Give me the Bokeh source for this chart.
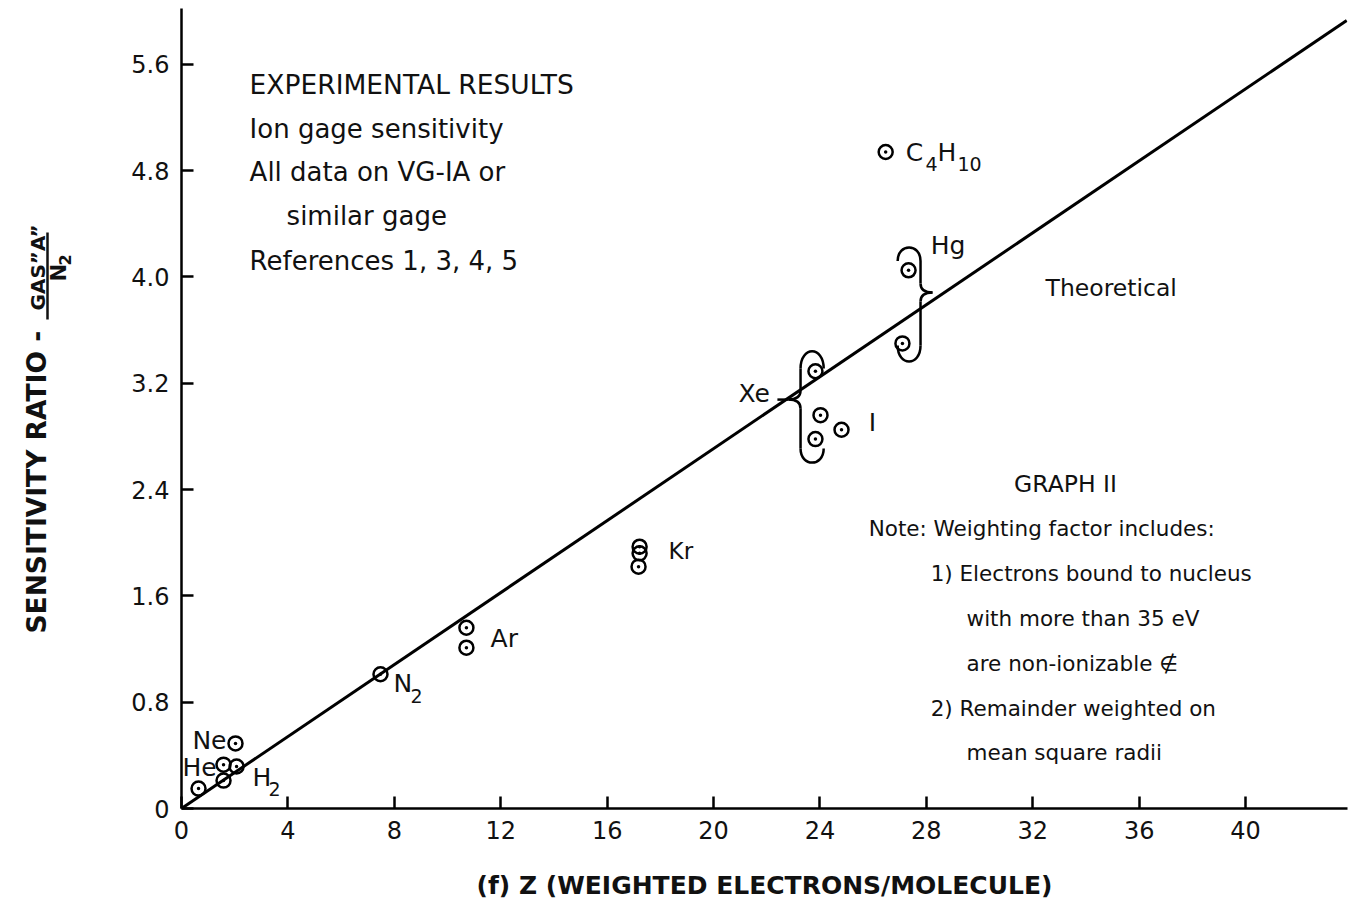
import math
from bokeh.plotting import figure
from bokeh.layouts import row
from bokeh.models import Label, FixedTicker
from bokeh.core.properties import value
from bokeh.embed import file_html
from bokeh.resources import INLINE

# ---------------- data ----------------
gas_names = ["He", "He", "H2", "Ne", "Ne", "N2", "Ar", "Ar", "Kr", "Kr", "Kr",
             "Xe", "Xe", "Xe", "I", "Hg", "Hg", "C4H10"]
gas_z = [0.64, 1.58, 2.07, 1.58, 2.03, 7.48, 10.71, 10.71, 17.22, 17.22, 17.18,
         23.83, 24.02, 23.83, 24.81, 27.33, 27.10, 26.47]
gas_ratio = [0.15, 0.21, 0.316, 0.33, 0.49, 1.01, 1.36, 1.21, 1.97, 1.92, 1.82,
             3.29, 2.96, 2.78, 2.85, 4.05, 3.50, 4.94]

theory_z = [0.0, 43.8]
theory_ratio = [0.0, 5.93]

x_ticks = [0, 4, 8, 12, 16, 20, 24, 28, 32, 36, 40]
x_tick_labels = ["0", "4", "8", "12", "16", "20", "24", "28", "32", "36", "40"]
y_ticks = [0, 0.8, 1.6, 2.4, 3.2, 4.0, 4.8, 5.6]
y_tick_labels = ["0", "0.8", "1.6", "2.4", "3.2", "4.0", "4.8", "5.6"]

FONT = "DejaVu Sans"
INK = "#111111"

# ---------------- y-axis title panel (left strip) ----------------
W_LEFT = 100
H = 904
ylab = figure(width=W_LEFT, height=H, frame_width=W_LEFT, frame_height=H,
              x_range=(0, W_LEFT), y_range=(0, H),
              x_axis_type=None, y_axis_type=None, output_backend="svg",
              toolbar_location=None, min_border=0)
ylab.outline_line_color = None
ylab.grid.grid_line_color = None


def vtext(fig, text, x, y, size):
    # rotated text reading upward; (x, y) is the start of the string
    fig.text(x=[x], y=[y], text=[text], angle=math.pi / 2, text_align="left",
             text_baseline="middle", text_font=value(FONT), text_font_size=size,
             text_font_style="bold", text_color=INK)


vtext(ylab, "SENSITIVITY RATIO -", 36, H - 625, "26.5px")
vtext(ylab, "GAS\u201dA\u201d", 37, H - 302, "20px")
ylab.segment(x0=[47], y0=[H - 224], x1=[47], y1=[H - 311], line_color=INK, line_width=2.5)
vtext(ylab, "N", 58, H - 273, "21px")
vtext(ylab, "2", 64, H - 257, "16px")

# ---------------- main chart ----------------
p = figure(width=1360 - W_LEFT, height=H, x_range=(0, 43.83), y_range=(0, 6.02),
           output_backend="svg", toolbar_location=None,
           min_border_left=181 - W_LEFT, min_border_right=13, min_border_top=8,
           min_border_bottom=96)
p.outline_line_color = None
p.grid.grid_line_color = None

for ax in (p.xaxis[0], p.yaxis[0]):
    ax.axis_line_width = 2.5
    ax.axis_line_color = "black"
    ax.major_tick_line_width = 2.5
    ax.major_tick_line_color = "black"
    ax.major_tick_in = 12
    ax.major_tick_out = 0
    ax.minor_tick_line_color = None
    ax.major_label_text_font = FONT
    ax.major_label_text_font_size = "24px"
    ax.major_label_text_color = INK
    ax.major_label_standoff = 12

p.xaxis.ticker = FixedTicker(ticks=x_ticks)
p.xaxis.major_label_overrides = dict(zip(x_ticks, x_tick_labels))
p.yaxis.ticker = FixedTicker(ticks=y_ticks)
p.yaxis.major_label_overrides = dict(zip(y_ticks, y_tick_labels))

p.xaxis.axis_label = "(f) Z (WEIGHTED ELECTRONS/MOLECULE)"
p.xaxis.axis_label_text_font = FONT
p.xaxis.axis_label_text_font_style = "bold"
p.xaxis.axis_label_text_font_size = "25px"
p.xaxis.axis_label_text_color = INK
p.xaxis.axis_label_standoff = 29

# theoretical line and data points
p.line(theory_z, theory_ratio, line_width=3, color="black")
p.scatter(gas_z, gas_ratio, marker="circle_dot", size=14, line_color="black",
          line_width=2.5, fill_color=None)


# curly braces (annotation strokes)
def brace(spine, hook, tip_x, tip_y, top_y, top_peak, bot_y, bot_peak, c):
    k = 4.0 / 3.0
    ct = top_y + (top_peak - top_y) * k
    cb = bot_y + (bot_peak - bot_y) * k
    p.bezier(x0=[spine, spine], y0=[top_y, bot_y], x1=[hook, hook], y1=[top_y, bot_y],
             cx0=[spine, spine], cy0=[ct, cb], cx1=[hook, hook], cy1=[ct, cb],
             line_color="black", line_width=2.5)
    p.segment(x0=[spine, spine], y0=[top_y, tip_y - c], x1=[spine, spine], y1=[tip_y + c, bot_y],
              line_color="black", line_width=2.5)
    p.quadratic(x0=[spine, spine], y0=[tip_y + c, tip_y - c], x1=[tip_x, tip_x], y1=[tip_y, tip_y],
                cx=[spine, spine], cy=[tip_y, tip_y], line_color="black", line_width=2.5)


brace(23.27, 24.14, 22.82, 3.077, 3.311, 3.44, 2.709, 2.603, 0.068)
p.segment(x0=[22.40], y0=[3.077], x1=[22.82], y1=[3.077], line_color="black", line_width=2.5)
brace(27.78, 26.92, 28.23, 3.883, 4.120, 4.221, 3.484, 3.364, 0.068)


def lab(text, x, y, size="25px", align="left"):
    p.add_layout(Label(x=x, y=y, text=text, text_font=FONT, text_font_size=size,
                       text_align=align, text_baseline="middle", text_color=INK))


# block of notes, upper left
lab("EXPERIMENTAL RESULTS", 2.56, 5.448, "26.5px")
lab("Ion gage sensitivity", 2.56, 5.117, "26px")
lab("All data on VG-IA or", 2.56, 4.786, "26px")
lab("similar gage", 3.95, 4.455, "26px")
lab("References 1, 3, 4, 5", 2.56, 4.123, "26px")

lab("Theoretical", 32.48, 3.92, "23.5px")

# notes, lower right
NOTE = "21.5px"
lab("GRAPH II", 33.23, 2.445, "23.5px", align="center")
lab("Note: Weighting factor includes:", 25.83, 2.107, NOTE)
lab("1) Electrons bound to nucleus", 28.16, 1.768, NOTE)
lab("with more than 35 eV", 29.51, 1.430, NOTE)
lab("are non-ionizable \u2209", 29.51, 1.091, NOTE)
lab("2) Remainder weighted on", 28.16, 0.752, NOTE)
lab("mean square radii", 29.51, 0.421, NOTE)

# gas labels
lab("C", 27.22, 4.936)
lab("4", 27.97, 4.853, "19px")
lab("H", 28.42, 4.936)
lab("10", 29.17, 4.853, "19px")
lab("Hg", 28.16, 4.236)
lab("Xe", 20.94, 3.123)
lab("I", 25.83, 2.904)
lab("Kr", 18.31, 1.941, "23px")
lab("Ar", 11.62, 1.279)
lab("N", 7.97, 0.941)
lab("2", 8.61, 0.843, "19px")
lab("Ne", 0.41, 0.512)
lab("He", 0.04, 0.309)
lab("H", 2.67, 0.233)
lab("2", 3.27, 0.143, "19px")

layout = row(ylab, p, spacing=0)
open("out.html", "w").write(file_html(layout, INLINE))
